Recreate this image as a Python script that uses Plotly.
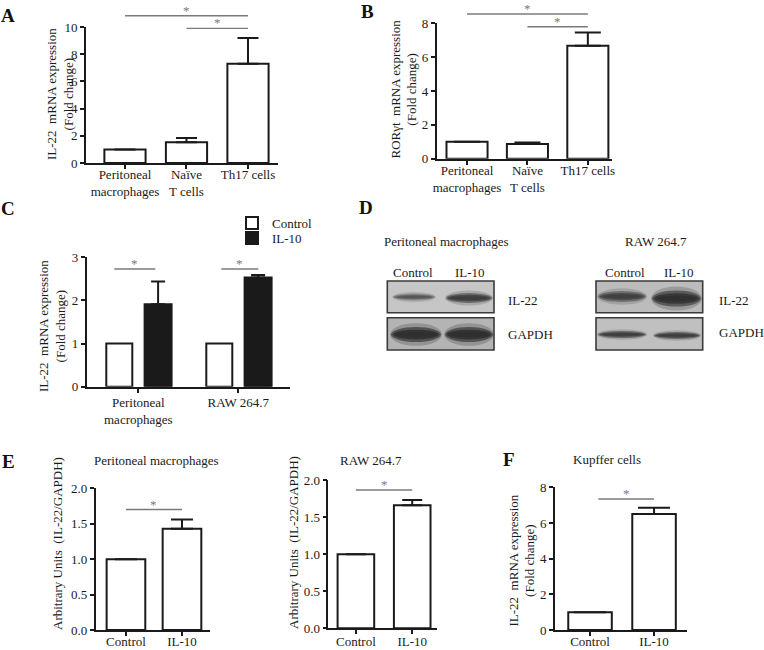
import plotly.graph_objects as go

W, H = 764, 650
FONT = "Liberation Serif, Times New Roman, serif"
INK = "#1a1a1a"
SIG = "#7a7a7a"

# ---------------- data ----------------
ab_cats = ["Peritoneal<br>macrophages", "Naïve<br>T cells", "Th17 cells"]
a_vals = [1.0, 1.52, 7.3]
a_err = [0.0, 0.32, 1.9]
b_vals = [1.0, 0.87, 6.68]
b_err = [0.0, 0.08, 0.77]

c_cats = ["Peritoneal<br>macrophages", "RAW 264.7"]
c_control = [1.0, 1.0]
c_il10 = [1.91, 2.53]
c_il10_err = [0.53, 0.06]

e_cats = ["Control", "IL-10"]
e_peri_vals = [1.0, 1.43]
e_peri_err = [0.0, 0.13]
e_raw_vals = [1.0, 1.66]
e_raw_err = [0.0, 0.07]
f_vals = [1.0, 6.5]
f_err = [0.0, 0.36]

# significance brackets: (x start, x end, level in data units)
a_sig = [(0, 2, 10.83), (1, 2, 9.9)]
b_sig = [(0, 2, 8.55), (1, 2, 7.8)]
c_sig = [(-0.24, 0.17, 2.73), (0.83, 1.2, 2.73)]
e_peri_sig = [(0, 1, 1.70)]
e_raw_sig = [(0, 1, 1.865)]
f_sig = [(0.13, 1.0, 7.34)]


def px(x):
    return x / W


def py(y):
    return 1 - y / H


fig = go.Figure()
shapes = []
annotations = []

# panel layout: axis id, x-domain px, y-domain px (top, bottom), x range, y range, yticks
panels = {
    "A": dict(ax="", xd=(86, 278), yd=(27, 163), xr=(-0.634, 2.488), yr=(0, 10),
              yt=[0, 2, 4, 6, 8, 10], fmt=None, so=-5),
    "B": dict(ax="2", xd=(436.7, 612), yd=(23.3, 158.7), xr=(-0.502, 2.40), yr=(0, 8),
              yt=[0, 2, 4, 6, 8], fmt=None, so=-5),
    "C": dict(ax="3", xd=(86.7, 290), yd=(257.3, 386.7), xr=(-0.516, 1.517), yr=(0, 3),
              yt=[0, 1, 2, 3], fmt=None, so=-1),
    "E1": dict(ax="4", xd=(95.7, 210), yd=(488.3, 630), xr=(-0.54, 1.5), yr=(0, 2),
               yt=[0, 0.5, 1, 1.5, 2], fmt=".1f", so=-5),
    "E2": dict(ax="5", xd=(328.3, 437), yd=(480, 628.3), xr=(-0.49, 1.44), yr=(0, 2),
               yt=[0, 0.5, 1, 1.5, 2], fmt=".1f", so=-4),
    "F": dict(ax="6", xd=(555, 686.7), yd=(487.3, 630), xr=(-0.547, 1.51), yr=(0, 8),
              yt=[0, 2, 4, 6, 8], fmt=None, so=-5),
}

tickfont = dict(family=FONT, size=13, color=INK)
common = dict(showline=True, linecolor=INK, linewidth=1.6, ticks="outside", ticklen=4,
              tickwidth=1.5, tickcolor=INK, showgrid=False, zeroline=False,
              tickfont=tickfont, fixedrange=True, automargin=False)

layout_axes = {}
for key, p in panels.items():
    xa = "xaxis" + p["ax"]
    ya = "yaxis" + p["ax"]
    layout_axes[xa] = dict(domain=[px(p["xd"][0]), px(p["xd"][1])], range=list(p["xr"]),
                           anchor="y" + p["ax"], ticklabelstandoff=p["so"], **common)
    yad = dict(domain=[py(p["yd"][1]), py(p["yd"][0])], range=list(p["yr"]),
               anchor="x" + p["ax"], tickvals=p["yt"], **common)
    if p["fmt"]:
        yad["tickformat"] = p["fmt"]
    layout_axes[ya] = yad

layout_axes["xaxis"].update(tickvals=[0, 1, 2], ticktext=ab_cats)
layout_axes["xaxis2"].update(tickvals=[0, 1, 2], ticktext=ab_cats)
layout_axes["xaxis3"].update(tickvals=[0, 1], ticktext=c_cats)
layout_axes["xaxis4"].update(tickvals=[0, 1], ticktext=e_cats)
layout_axes["xaxis5"].update(tickvals=[0, 1], ticktext=e_cats)
layout_axes["xaxis6"].update(tickvals=[0, 1], ticktext=e_cats)


def bar_trace(vals, err, axid, width, capw, fill="white"):
    n = len(vals)
    return go.Bar(
        x=list(range(n)), y=vals, width=width,
        marker=dict(color=fill, line=dict(color=INK, width=2)),
        error_y=dict(type="data", array=err, arrayminus=[0] * n, symmetric=False,
                     color=INK, thickness=2, width=capw),
        xaxis="x" + axid, yaxis="y" + axid, showlegend=False, hoverinfo="skip",
    )


fig.add_trace(bar_trace(a_vals, a_err, "", 0.67, 10.5))
fig.add_trace(bar_trace(b_vals, b_err, "2", 0.68, 13))
fig.add_trace(go.Bar(x=[0, 1], y=c_control, width=0.26, offset=-0.32,
                     marker=dict(color="white", line=dict(color=INK, width=2)),
                     xaxis="x3", yaxis="y3", name="Control", showlegend=True,
                     legend="legend", hoverinfo="skip"))
fig.add_trace(go.Bar(x=[0, 1], y=c_il10, width=0.27, offset=0.063,
                     marker=dict(color=INK, line=dict(color=INK, width=2)),
                     error_y=dict(type="data", array=c_il10_err, arrayminus=[0, 0],
                                  symmetric=False, color=INK, thickness=2, width=7),
                     xaxis="x3", yaxis="y3", name="IL-10", showlegend=True,
                     legend="legend2", hoverinfo="skip"))
fig.add_trace(bar_trace(e_peri_vals, e_peri_err, "4", 0.69, 11))
fig.add_trace(bar_trace(e_raw_vals, e_raw_err, "5", 0.65, 10))
fig.add_trace(bar_trace(f_vals, f_err, "6", 0.68, 16))


def add_sig(sigs, axid, ymax):
    for x0, x1, lvl in sigs:
        shapes.append(dict(type="line", xref="x" + axid, yref=("y" + axid) + " domain",
                           x0=x0, x1=x1, y0=lvl / ymax, y1=lvl / ymax,
                           line=dict(color=SIG, width=1.4)))
        annotations.append(dict(text="*", xref="x" + axid, yref=("y" + axid) + " domain",
                                x=(x0 + x1) / 2, y=lvl / ymax, yanchor="bottom",
                                xanchor="center", showarrow=False, yshift=-4,
                                font=dict(family=FONT, size=13, color=SIG)))


add_sig(a_sig, "", 10)
add_sig(b_sig, "2", 8)
add_sig(c_sig, "3", 3)
add_sig(e_peri_sig, "4", 2)
add_sig(e_raw_sig, "5", 2)
add_sig(f_sig, "6", 8)


def text(t, x, y, size=13, xanchor="center", angle=0, bold=False, color=INK):
    if bold:
        t = "<b>" + t + "</b>"
    annotations.append(dict(text=t, x=px(x), y=py(y), xref="paper", yref="paper",
                            xanchor=xanchor, yanchor="middle", showarrow=False,
                            textangle=angle, font=dict(family=FONT, size=size, color=color)))


# panel letters
for letter, x, y in [("A", 8, 15), ("B", 367, 12), ("C", 8, 208), ("D", 366, 207),
                     ("E", 8, 461), ("F", 509, 459)]:
    text(letter, x, y, size=19, bold=True, color="#111")

# y-axis titles
sp = "\u00a0"
text("IL-22" + sp + " mRNA expression<br>(Fold change)", 60, 94, angle=-90)
text("RORγt" + sp + " mRNA expression<br>(Fold change)", 403.5, 89, angle=-90)
text("IL-22" + sp + " mRNA expression<br>(Fold change)", 52, 326, angle=-90)
text("Arbitrary Units" + sp + " (IL-22/GAPDH)", 57, 544, angle=-90)
text("Arbitrary Units" + sp + " (IL-22/GAPDH)", 293, 543, angle=-90)
text("IL-22" + sp + " mRNA expression<br>(Fold change)", 521.5, 561, angle=-90)

# panel titles
text("Peritoneal macrophages", 156, 460)
text("RAW 264.7", 371, 460)
text("Kupffer cells", 607, 459)

# ---------------- panel D: western blot ----------------
text("Peritoneal macrophages", 381.7, 242, xanchor="left")
text("RAW 264.7", 656, 242)
text("Control", 413.3, 272)
text("IL-10", 470, 272)
text("Control", 625, 272)
text("IL-10", 679.3, 272)
text("IL-22", 506, 300, xanchor="left")
text("GAPDH", 506, 335, xanchor="left")
text("IL-22", 716.7, 300, xanchor="left")
text("GAPDH", 716.7, 332, xanchor="left")


def box(x0, x1, y0, y1, fill):
    shapes.append(dict(type="rect", xref="paper", yref="paper", x0=px(x0), x1=px(x1),
                       y0=py(y1), y1=py(y0), fillcolor=fill,
                       line=dict(color="#3a3a3a", width=1.6), layer="above"))


def band(x0, x1, yc, h, color, strength=1.0):
    cx = (x0 + x1) / 2
    for sx, sy, op in [(1.04, 1.5, 0.18), (1.0, 1.0, 0.45), (0.92, 0.65, 0.6), (0.8, 0.35, 0.6)]:
        w = (x1 - x0) * sx
        hh = h * sy
        shapes.append(dict(type="circle", xref="paper", yref="paper",
                           x0=px(cx - w / 2), x1=px(cx + w / 2),
                           y0=py(yc + hh / 2), y1=py(yc - hh / 2),
                           fillcolor=color, opacity=min(1, op * strength),
                           line=dict(width=0), layer="above"))


# left blot
box(387.3, 494, 281, 312.7, "#c6c6c6")
box(387.3, 494, 317.7, 350, "#b4b4b4")
band(393, 435, 297, 7, "#4a4a4a", 0.9)
band(446, 492, 298, 10, "#3a3a3a", 1.2)
band(391, 441, 334.5, 15, "#2e2e2e", 1.4)
band(445, 493, 334.5, 15, "#2e2e2e", 1.4)
# right blot
box(596, 702.7, 281, 312.7, "#bcbcbc")
box(596, 702.7, 317.7, 350, "#c0c0c0")
band(598, 646, 296.5, 11, "#3a3a3a", 1.1)
band(652, 701, 298.5, 16, "#2e2e2e", 1.3)
band(598, 646, 334.5, 7, "#3a3a3a", 1.2)
band(654, 700, 335.5, 7, "#3a3a3a", 1.2)

leg_common = dict(xanchor="left", yanchor="top", bgcolor="rgba(0,0,0,0)",
                  font=dict(family=FONT, size=13, color=INK), itemwidth=30,
                  tracegroupgap=0)

fig.update_layout(
    width=W, height=H, margin=dict(l=0, r=0, t=0, b=0, autoexpand=False),
    paper_bgcolor="white", plot_bgcolor="white",
    font=dict(family=FONT, size=13, color=INK),
    showlegend=True,
    legend=dict(x=px(232), y=py(208), **leg_common),
    legend2=dict(x=px(232), y=py(223), **leg_common),
    barmode="overlay",
    shapes=shapes, annotations=annotations,
    **layout_axes,
)

fig.write_html(
    "out.html",
    config={"displayModeBar": False},
    post_script="document.body.style.margin='0';document.body.style.overflow='hidden';",
)
